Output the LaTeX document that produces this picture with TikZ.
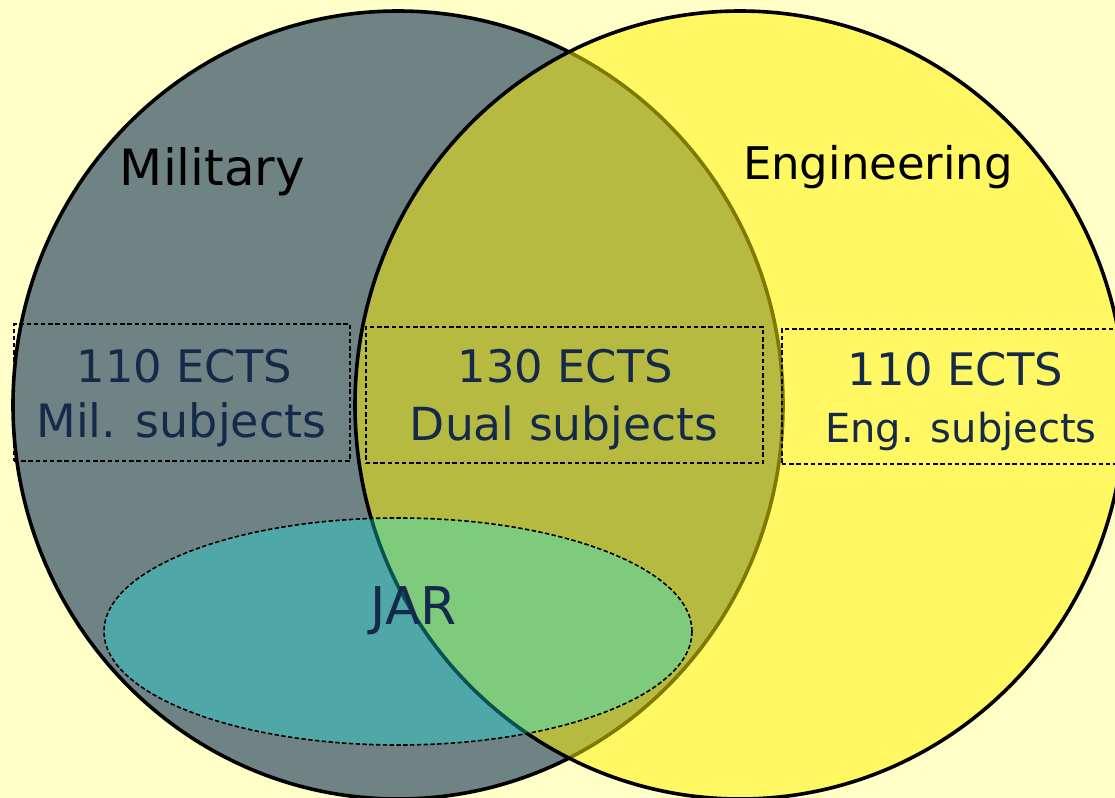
\documentclass[tikz,border=0pt]{standalone}
\usepackage{fontspec}
\setmainfont{DejaVu Sans}
\definecolor{bgpaper}{RGB}{255,255,200}
\definecolor{milgray}{RGB}{111,131,132}
\definecolor{jarteal}{RGB}{22,237,235}
\definecolor{textnavy}{RGB}{21,42,74}
\tikzset{
  subjbox/.style={draw, dash pattern=on 2.2pt off 1.4pt, line width=0.8pt, inner sep=0pt},
  ectstext/.style={text=textnavy, anchor=base, inner sep=0pt},
  settitle/.style={text=black, anchor=base, inner sep=0pt}
}
\begin{document}
\begin{tikzpicture}[x=0.5pt,y=-0.5pt]
\fill[bgpaper] (0,0) rectangle (1115,798);
\useasboundingbox (0,0) rectangle (1115,798);
\clip (0,0) rectangle (1115,798);
% the two sets
\filldraw[fill=milgray, line width=1.8pt] (398,405) ellipse [x radius=385, y radius=394];
\filldraw[fill=yellow, fill opacity=0.5, line width=1.8pt] (740,405) ellipse [x radius=385, y radius=394];
% JAR
\filldraw[fill=jarteal, fill opacity=0.35, dash pattern=on 2.2pt off 1.2pt, line width=0.8pt] (398,631.5) ellipse [x radius=294, y radius=113.5];
\node[settitle, font=\fontsize{25}{30}\selectfont] (mil) at (212.5,185) {Military};
\node[settitle, font=\fontsize{22.5}{27}\selectfont] (eng) at (878,179) {Engineering};
% subject boxes
\node[subjbox, minimum width=168pt, minimum height=68.5pt] (milbox) at (182,392.5) {};
\node[subjbox, minimum width=198.5pt, minimum height=68pt] (dualbox) at (564.5,395) {};
\node[subjbox, minimum width=171.5pt, minimum height=67.5pt] (engbox) at (953.5,396.5) {};
\node[ectstext, font=\fontsize{22.4}{27}\selectfont] (milects) at (184.5,382) {110 ECTS};
\node[ectstext, font=\fontsize{23}{27}\selectfont] (milsub) at (181.5,437) {Mil. subjects};
\node[ectstext, font=\fontsize{22.4}{27}\selectfont] (dualects) at (565.5,382) {130 ECTS};
\node[ectstext, font=\fontsize{22.8}{27}\selectfont] (dualsub) at (564,440) {Dual subjects};
\node[ectstext, font=\fontsize{22.4}{27}\selectfont] (engects) at (955.5,385) {110 ECTS};
\node[ectstext, font=\fontsize{20}{24}\selectfont] (engsub) at (961,442) {Eng. subjects};
\node[ectstext, font=\fontsize{26}{30}\selectfont] (jar) at (414,624) {JAR};
\end{tikzpicture}
\end{document}
